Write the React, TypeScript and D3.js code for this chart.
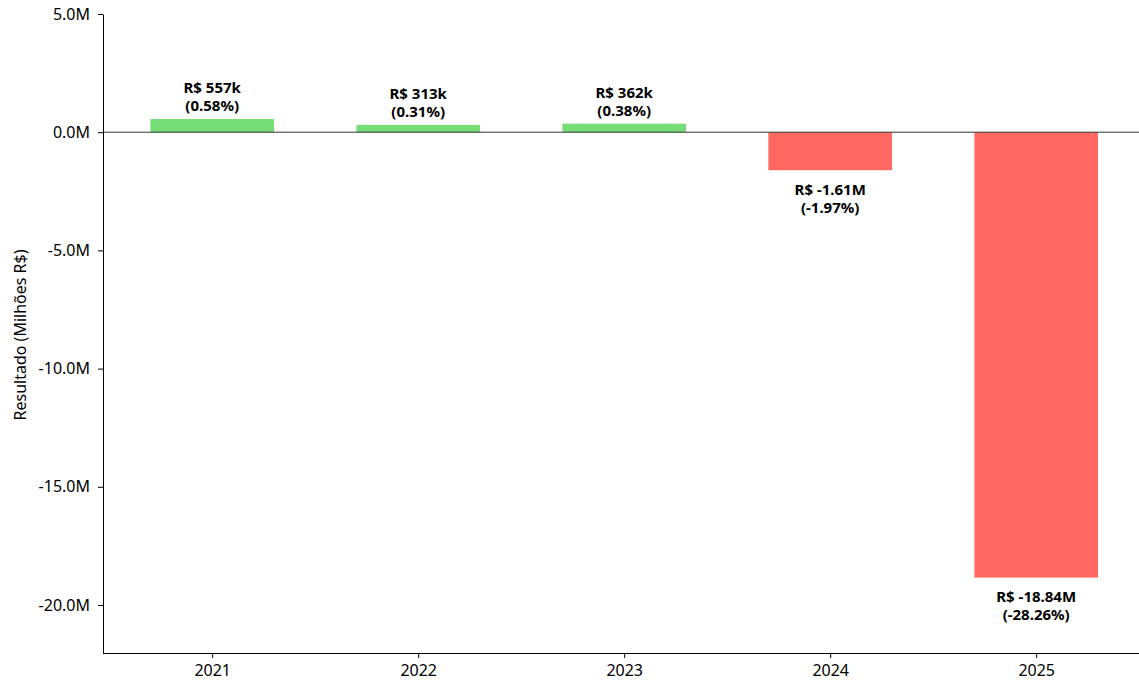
import React, { useEffect, useRef } from 'react';
import * as d3 from 'd3';

const years = ['2021', '2022', '2023', '2024', '2025'];
const resultMillions = [0.557, 0.313, 0.362, -1.61, -18.84];
const valueLabels = ['R$ 557k', 'R$ 313k', 'R$ 362k', 'R$ -1.61M', 'R$ -18.84M'];
const pctLabels = ['(0.58%)', '(0.31%)', '(0.38%)', '(-1.97%)', '(-28.26%)'];
const yTicks = [5, 0, -5, -10, -15, -20];

const WIDTH = 1139;
const HEIGHT = 684;
const FONT = '"Noto Sans", "Open Sans", sans-serif';

export default function App() {
    const ref = useRef<SVGSVGElement>(null);

    useEffect(() => {
        const svg = d3.select(ref.current);
        svg.selectAll('*').remove();

        const left = 103;
        const top = 14;
        const bottom = 653;
        // categorical axis, matplotlib-ish margins around bars
        const x = d3.scaleLinear().domain([-0.53, 4.53]).range([left, left + 206 * 5.06]);
        const y = d3.scaleLinear().domain([-22.03, 5]).range([bottom, top]);
        const barW = x(0.3) - x(-0.3);

        // bars
        svg.append('g')
            .selectAll('rect')
            .data(resultMillions)
            .enter()
            .append('rect')
            .attr('x', (_, i) => x(i) - barW / 2)
            .attr('y', (d) => y(Math.max(0, d)))
            .attr('width', barW)
            .attr('height', (d) => Math.abs(y(d) - y(0)))
            .attr('fill', (d) => (d >= 0 ? '#77dd77' : '#ff6961'));

        // zero line
        svg.append('line')
            .attr('x1', left)
            .attr('x2', WIDTH)
            .attr('y1', y(0))
            .attr('y2', y(0))
            .attr('stroke', '#333')
            .attr('stroke-width', 1);

        // y axis
        const yAxis = svg.append('g')
            .attr('transform', `translate(${left},0)`)
            .call(d3.axisLeft(y).tickValues(yTicks).tickSize(5).tickSizeOuter(0).tickFormat((d) => `${(+d).toFixed(1)}M`));
        yAxis.select('.domain').attr('stroke', '#000').attr('stroke-width', 1);
        yAxis.selectAll('.tick line').attr('stroke', '#000');
        yAxis.selectAll('.tick text')
            .attr('font-family', FONT)
            .attr('font-size', 16)
            .attr('fill', '#000')
            .attr('x', -13);

        // x axis
        const xAxis = svg.append('g')
            .attr('transform', `translate(0,${bottom})`)
            .call(d3.axisBottom(x).tickValues(d3.range(years.length)).tickSize(5).tickSizeOuter(0).tickFormat((d) => years[+d]));
        xAxis.select('.domain').attr('d', `M${left},0.5H${WIDTH}`).attr('stroke', '#000');
        xAxis.selectAll('.tick line').attr('stroke', '#000');
        xAxis.selectAll('.tick text')
            .attr('font-family', FONT)
            .attr('font-size', 16)
            .attr('fill', '#000')
            .attr('y', 12);

        // y label
        svg.append('text')
            .attr('transform', `translate(26,335) rotate(-90)`)
            .attr('text-anchor', 'middle')
            .attr('font-family', FONT)
            .attr('font-size', 16)
            .text('Resultado (Milhões R$)');

        // value labels
        const labels = svg.append('g')
            .attr('font-family', FONT)
            .attr('font-size', 15)
            .attr('font-weight', 'bold')
            .attr('text-anchor', 'middle');
        resultMillions.forEach((v, i) => {
            const cx = x(i);
            if (v >= 0) {
                const yTop = y(v);
                labels.append('text').attr('x', cx).attr('y', yTop - 26).text(valueLabels[i]);
                labels.append('text').attr('x', cx).attr('y', yTop - 8).text(pctLabels[i]);
            } else {
                const yBot = y(v);
                labels.append('text').attr('x', cx).attr('y', yBot + 24.5).text(valueLabels[i]);
                labels.append('text').attr('x', cx).attr('y', yBot + 42.5).text(pctLabels[i]);
            }
        });
    }, []);

    return (
        <svg
            ref={ref}
            width={WIDTH}
            height={HEIGHT}
            style={{ position: 'absolute', left: 0, top: 0, background: '#fff' }}
        />
    );
}
